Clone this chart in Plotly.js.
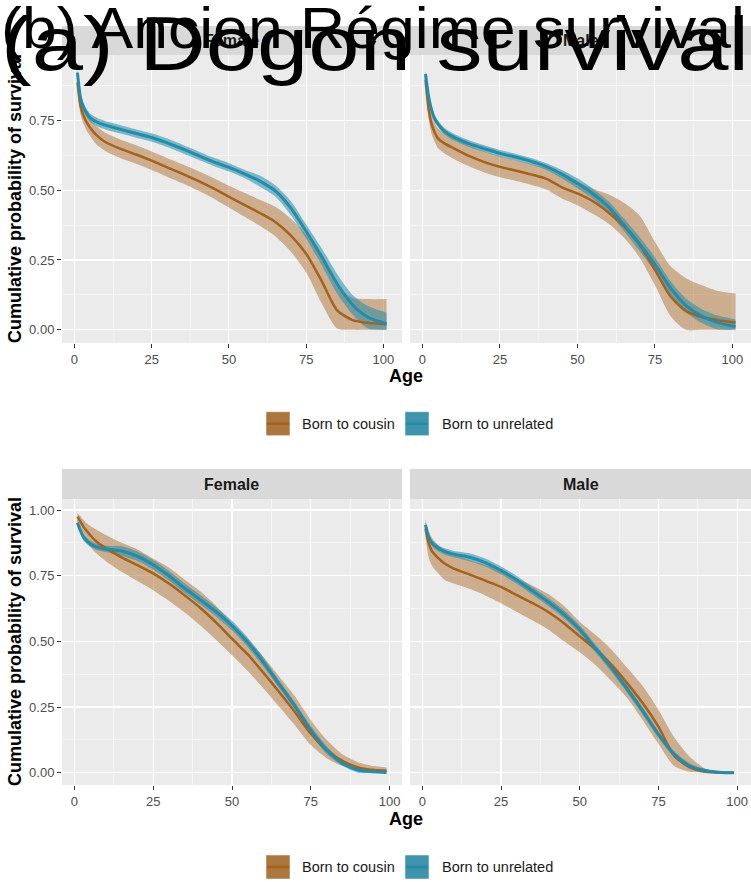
<!DOCTYPE html>
<html>
<head>
<meta charset="utf-8">
<script src="https://cdn.plot.ly/plotly-3.0.1.min.js"></script>
<style>html,body{margin:0;padding:0;background:#fff}#chart{width:751px;height:882px}</style>
</head>
<body>
<div id="chart"></div>
<script>
// ---------- DATA ----------
const seriesNames = ["Born to cousin", "Born to unrelated"];
const facetNames = ["Female", "Male"];
const titleA = "(a) Dogon survival";
const titleB = "(b) Ancien Régime survival";
const xTitle = "Age";
const yTitle = "Cumulative probability of survival";

// (a) Dogon
const ageTop = [1,2,3,4,5,7,10,15,20,25,30,35,40,45,50,55,60,65,70,75,80,85,90,95,101];
const dogonFemaleUnrelated   = [0.92,0.83,0.795,0.775,0.76,0.745,0.732,0.717,0.702,0.688,0.669,0.647,0.624,0.601,0.581,0.558,0.532,0.497,0.436,0.352,0.262,0.165,0.09,0.045,0.022];
const dogonFemaleUnrelatedLo = [0.905,0.815,0.78,0.76,0.745,0.73,0.717,0.702,0.687,0.673,0.654,0.632,0.609,0.586,0.566,0.543,0.512,0.477,0.411,0.327,0.232,0.13,0.055,0.005,0];
const dogonFemaleUnrelatedHi = [0.935,0.845,0.81,0.79,0.775,0.76,0.747,0.732,0.717,0.703,0.684,0.662,0.639,0.616,0.596,0.573,0.552,0.517,0.461,0.377,0.292,0.2,0.125,0.085,0.062];
const dogonFemaleCousin      = [0.885,0.80,0.765,0.742,0.725,0.698,0.672,0.647,0.627,0.605,0.581,0.558,0.533,0.506,0.476,0.447,0.418,0.386,0.338,0.272,0.175,0.07,0.035,0.025,0.02];
const dogonFemaleCousinLo    = [0.86,0.77,0.735,0.712,0.695,0.665,0.64,0.614,0.594,0.572,0.548,0.524,0.498,0.47,0.438,0.405,0.372,0.335,0.28,0.205,0.095,0.005,0,0,0];
const dogonFemaleCousinHi    = [0.91,0.83,0.795,0.772,0.755,0.73,0.705,0.68,0.66,0.638,0.615,0.592,0.568,0.543,0.515,0.49,0.465,0.44,0.398,0.34,0.255,0.155,0.115,0.11,0.11];

const dogonMaleUnrelated     = [0.915,0.835,0.785,0.755,0.737,0.712,0.69,0.666,0.648,0.631,0.618,0.603,0.584,0.557,0.524,0.487,0.44,0.376,0.308,0.234,0.15,0.087,0.05,0.027,0.012];
const dogonMaleUnrelatedLo   = [0.903,0.823,0.773,0.743,0.725,0.70,0.678,0.654,0.636,0.619,0.606,0.591,0.572,0.542,0.506,0.469,0.42,0.354,0.283,0.209,0.125,0.062,0.025,0.002,0];
const dogonMaleUnrelatedHi   = [0.927,0.847,0.797,0.767,0.749,0.724,0.702,0.678,0.66,0.643,0.63,0.615,0.596,0.572,0.542,0.505,0.46,0.398,0.333,0.259,0.175,0.112,0.075,0.052,0.037];
const dogonMaleCousin        = [0.895,0.79,0.735,0.705,0.685,0.668,0.65,0.622,0.60,0.583,0.57,0.556,0.54,0.51,0.488,0.46,0.42,0.37,0.305,0.215,0.12,0.068,0.046,0.035,0.026];
const dogonMaleCousinLo      = [0.865,0.755,0.70,0.672,0.65,0.632,0.612,0.585,0.563,0.546,0.533,0.519,0.502,0.47,0.446,0.415,0.38,0.33,0.26,0.16,0.05,0,0,0,0];
const dogonMaleCousinHi      = [0.925,0.825,0.77,0.74,0.72,0.705,0.688,0.66,0.638,0.621,0.607,0.593,0.578,0.55,0.53,0.505,0.485,0.455,0.41,0.315,0.228,0.185,0.16,0.14,0.13];

// (b) Ancien Régime
const ageBottom = [1,2,3,5,7,10,15,20,25,30,35,40,45,50,55,60,65,70,75,80,85,90,95,99];
const ancienFemaleUnrelated   = [0.952,0.92,0.895,0.872,0.86,0.852,0.844,0.824,0.792,0.75,0.702,0.658,0.612,0.56,0.496,0.42,0.336,0.252,0.162,0.086,0.036,0.01,0.003,0.001];
const ancienFemaleUnrelatedLo = [0.94,0.908,0.883,0.86,0.848,0.84,0.826,0.806,0.774,0.732,0.684,0.64,0.594,0.542,0.478,0.402,0.321,0.237,0.147,0.071,0.026,0,0,0];
const ancienFemaleUnrelatedHi = [0.964,0.932,0.907,0.884,0.872,0.864,0.862,0.842,0.81,0.768,0.72,0.676,0.63,0.578,0.514,0.438,0.351,0.267,0.177,0.101,0.046,0.02,0.013,0.011];
const ancienFemaleCousin      = [0.975,0.955,0.935,0.905,0.88,0.855,0.82,0.79,0.759,0.72,0.675,0.627,0.571,0.51,0.45,0.38,0.306,0.23,0.148,0.086,0.045,0.02,0.01,0.007];
const ancienFemaleCousinLo    = [0.955,0.925,0.90,0.86,0.835,0.805,0.765,0.73,0.695,0.655,0.61,0.56,0.505,0.447,0.387,0.32,0.25,0.18,0.105,0.055,0.025,0.01,0.003,0.002];
const ancienFemaleCousinHi    = [0.99,0.975,0.96,0.94,0.925,0.905,0.875,0.85,0.815,0.78,0.735,0.69,0.635,0.57,0.51,0.44,0.365,0.29,0.2,0.125,0.07,0.04,0.025,0.02];

const ancienMaleUnrelated     = [0.943,0.90,0.875,0.855,0.843,0.832,0.82,0.80,0.77,0.734,0.692,0.65,0.603,0.545,0.473,0.40,0.32,0.235,0.146,0.07,0.025,0.007,0.001,0];
const ancienMaleUnrelatedLo   = [0.931,0.888,0.863,0.843,0.831,0.82,0.805,0.785,0.755,0.719,0.677,0.635,0.588,0.53,0.458,0.385,0.305,0.22,0.133,0.058,0.015,0,0,0];
const ancienMaleUnrelatedHi   = [0.955,0.912,0.887,0.867,0.855,0.844,0.835,0.815,0.785,0.749,0.707,0.665,0.618,0.56,0.488,0.415,0.335,0.25,0.159,0.082,0.035,0.014,0.005,0.003];
const ancienMaleCousin        = [0.93,0.875,0.845,0.818,0.797,0.777,0.755,0.731,0.707,0.676,0.646,0.612,0.569,0.519,0.47,0.412,0.342,0.265,0.175,0.065,0.02,0.003,0,0];
const ancienMaleCousinLo      = [0.9,0.82,0.79,0.76,0.735,0.72,0.70,0.675,0.645,0.612,0.58,0.545,0.50,0.458,0.41,0.35,0.285,0.20,0.11,0.025,0.003,0,0,0];
const ancienMaleCousinHi      = [0.965,0.92,0.895,0.867,0.848,0.83,0.81,0.79,0.772,0.74,0.712,0.68,0.635,0.575,0.525,0.47,0.40,0.33,0.24,0.135,0.06,0.015,0.003,0.001];

// ---------- STYLE ----------
const W = 751, H = 882;
const px = v => v / W;
const py = v => 1 - v / H;
const FONT = "Liberation Sans, Arial, Helvetica, sans-serif";
const brownLine = "#A6611A", blueLine = "#228CAA";
const brownFill = "rgba(166,97,26,0.45)", blueFill = "rgba(34,140,170,0.55)";

const panels = [
  {xa:"x",  ya:"y",  age:ageTop, c:dogonFemaleCousin, cLo:dogonFemaleCousinLo, cHi:dogonFemaleCousinHi, u:dogonFemaleUnrelated, uLo:dogonFemaleUnrelatedLo, uHi:dogonFemaleUnrelatedHi},
  {xa:"x2", ya:"y2", age:ageTop, c:dogonMaleCousin, cLo:dogonMaleCousinLo, cHi:dogonMaleCousinHi, u:dogonMaleUnrelated, uLo:dogonMaleUnrelatedLo, uHi:dogonMaleUnrelatedHi},
  {xa:"x3", ya:"y3", age:ageBottom, c:ancienFemaleCousin, cLo:ancienFemaleCousinLo, cHi:ancienFemaleCousinHi, u:ancienFemaleUnrelated, uLo:ancienFemaleUnrelatedLo, uHi:ancienFemaleUnrelatedHi},
  {xa:"x4", ya:"y4", age:ageBottom, c:ancienMaleCousin, cLo:ancienMaleCousinLo, cHi:ancienMaleCousinHi, u:ancienMaleUnrelated, uLo:ancienMaleUnrelatedLo, uHi:ancienMaleUnrelatedHi}
];

const traces = [];
function ribbon(p, lo, hi, fill, name) {
  traces.push({x: p.age, y: lo, xaxis: p.xa, yaxis: p.ya, type: "scatter", mode: "lines",
    line: {width: 0, shape: "spline", smoothing: 0.7}, hoverinfo: "skip", showlegend: false, name: name});
  traces.push({x: p.age, y: hi, xaxis: p.xa, yaxis: p.ya, type: "scatter", mode: "lines",
    fill: "tonexty", fillcolor: fill,
    line: {width: 0, shape: "spline", smoothing: 0.7}, hoverinfo: "skip", showlegend: false, name: name});
}
function line(p, y, color, w, name) {
  traces.push({x: p.age, y: y, xaxis: p.xa, yaxis: p.ya, type: "scatter", mode: "lines",
    line: {color: color, width: w, shape: "spline", smoothing: 0.7}, showlegend: false, name: name});
}
panels.forEach(p => {
  ribbon(p, p.cLo, p.cHi, brownFill, seriesNames[0]);
  ribbon(p, p.uLo, p.uHi, blueFill, seriesNames[1]);
  line(p, p.c, brownLine, 2.5, seriesNames[0]);
  line(p, p.u, blueLine, 3, seriesNames[1]);
});

// geometry in pixels
const colL = [62, 402], colR = [410, 751];
const rowT = [55, 343], rowB = [499, 785];
const stripT = [26, 55], stripB = [469, 499];

function xax(dom, range, anchor) {
  return {domain: [px(dom[0]), px(dom[1])], range: range, anchor: anchor,
    tickmode: "linear", tick0: 0, dtick: 25, ticks: "outside", ticklen: 4, tickwidth: 1, tickcolor: "#333333",
    tickfont: {family: FONT, size: 13, color: "#4D4D4D"},
    showgrid: true, gridcolor: "#FFFFFF", gridwidth: 1.1, zeroline: false, showline: false,
    minor: {tick0: 12.5, dtick: 25, showgrid: true, gridcolor: "#FFFFFF", gridwidth: 0.5, ticks: ""}};
}
function yax(dom, range, anchor, showLabels) {
  return {domain: [py(dom[1]), py(dom[0])], range: range, anchor: anchor,
    tickmode: "linear", tick0: 0, dtick: 0.25, tickformat: ".2f",
    ticks: showLabels ? "outside" : "", ticklen: 4, tickwidth: 1, tickcolor: "#333333",
    showticklabels: showLabels, tickfont: {family: FONT, size: 13, color: "#4D4D4D"},
    showgrid: true, gridcolor: "#FFFFFF", gridwidth: 1.1, zeroline: false, showline: false,
    minor: {tick0: 0.125, dtick: 0.25, showgrid: true, gridcolor: "#FFFFFF", gridwidth: 0.5, ticks: ""}};
}

const shapes = [];
const annotations = [];
function rect(x0, x1, y0, y1, fill) {
  shapes.push({type: "rect", xref: "paper", yref: "paper", x0: px(x0), x1: px(x1), y0: py(y1), y1: py(y0),
    fillcolor: fill, line: {width: 0}, layer: "below"});
}
// strips
[[colL, stripT, facetNames[0]], [colR, stripT, facetNames[1]], [colL, stripB, facetNames[0]], [colR, stripB, facetNames[1]]].forEach(s => {
  rect(s[0][0], s[0][1], s[1][0], s[1][1], "#D9D9D9");
  annotations.push({xref: "paper", yref: "paper", x: px((s[0][0] + s[0][1]) / 2), y: py((s[1][0] + s[1][1]) / 2),
    xanchor: "center", yanchor: "middle", showarrow: false, text: "<b>" + s[2] + "</b>",
    font: {family: FONT, size: 16, color: "#1A1A1A"}});
});
// axis titles
[[rowT, 376], [rowB, 819]].forEach(r => {
  annotations.push({xref: "paper", yref: "paper", x: px(15), y: py((r[0][0] + r[0][1]) / 2), textangle: -90,
    xanchor: "center", yanchor: "middle", showarrow: false, text: "<b>" + yTitle + "</b>",
    font: {family: FONT, size: 18, color: "#000000"}});
  annotations.push({xref: "paper", yref: "paper", x: px(406), y: py(r[1]),
    xanchor: "center", yanchor: "middle", showarrow: false, text: "<b>" + xTitle + "</b>",
    font: {family: FONT, size: 18, color: "#000000"}});
});
// legends
[423.7, 867].forEach(cy => {
  const keys = [[266, "#AB773F", brownLine, seriesNames[0], 300], [405, "#3E94AA", blueLine, seriesNames[1], 440]];
  keys.forEach(k => {
    shapes.push({type: "rect", xref: "paper", yref: "paper", x0: px(k[0]), x1: px(k[0] + 24), y0: py(cy + 12), y1: py(cy - 12),
      fillcolor: k[1], line: {color: "#FFFFFF", width: 0.5}});
    shapes.push({type: "line", xref: "paper", yref: "paper", x0: px(k[0] + 1), x1: px(k[0] + 23), y0: py(cy), y1: py(cy),
      line: {color: k[2], width: 2.5}});
    annotations.push({xref: "paper", yref: "paper", x: px(k[4]), y: py(cy), xanchor: "left", yanchor: "middle",
      showarrow: false, text: k[3], font: {family: FONT, size: 14.5, color: "#1A1A1A"}});
  });
});
// big overlapping titles
annotations.push({xref: "paper", yref: "paper", x: 0, y: py(48 - 0.905 * 57 - 1), xanchor: "left", yanchor: "top",
  showarrow: false, text: titleB, font: {family: FONT, size: 57, color: "#000000"}, borderpad: 0});
annotations.push({xref: "paper", yref: "paper", x: 0, y: py(70 - 0.905 * 76 - 1), xanchor: "left", yanchor: "top",
  showarrow: false, text: titleA, font: {family: FONT, size: 76, color: "#000000"}, borderpad: 0});

const layout = {
  width: W, height: H, margin: {l: 0, r: 0, t: 0, b: 0},
  paper_bgcolor: "#FFFFFF", plot_bgcolor: "#EBEBEB", showlegend: false,
  font: {family: FONT},
  xaxis: xax(colL, [-4, 106], "y"),
  yaxis: yax(rowT, [-0.047, 0.983], "x", true),
  xaxis2: xax(colR, [-4, 106], "y2"),
  yaxis2: yax(rowT, [-0.047, 0.983], "x2", false),
  xaxis3: xax(colL, [-3.9, 103.9], "y3"),
  yaxis3: yax(rowB, [-0.047, 1.042], "x3", true),
  xaxis4: xax(colR, [-3.9, 104.4], "y4"),
  yaxis4: yax(rowB, [-0.047, 1.042], "x4", false),
  shapes: shapes, annotations: annotations
};

Plotly.newPlot("chart", traces, layout, {staticPlot: true, displayModeBar: false}).then(gd => {
  // stretch the two big titles horizontally to match the reference widths
  const targets = {};
  targets[titleA] = 748;
  targets[titleB] = 744;
  gd.querySelectorAll("text.annotation-text").forEach(t => {
    const txt = t.textContent;
    if (targets[txt] !== undefined) {
      const bb = t.getBBox();
      const s = targets[txt] / bb.width;
      const prev = t.getAttribute("transform") || "";
      t.setAttribute("transform", prev + " translate(" + bb.x + ",0) scale(" + s + ",1) translate(" + (-bb.x) + ",0)");
    }
  });
});
</script>
</body>
</html>
